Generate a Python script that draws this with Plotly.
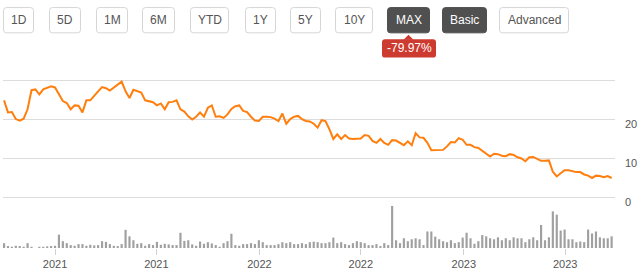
import plotly.graph_objects as go
import pandas as pd

# ---------------- data ----------------
start_date = "2020-10-02"
price = [
    24.9, 21.8, 21.9, 20.1, 19.7, 20.2, 22.6, 27.5, 27.7, 26.4,
    27.7, 28.2, 28.5, 28.2, 26.5, 24.7, 24.2, 22.6, 23.6, 23.5,
    21.8, 24.9, 24.9, 26.2, 27.2, 28.3, 28.0, 27.4, 28.2, 29.1,
    29.7, 27.2, 25.5, 27.6, 27.3, 26.9, 24.9, 24.7, 24.4, 23.6,
    24.1, 22.6, 24.4, 24.5, 24.9, 22.6, 22.0, 20.8, 20.0, 20.7,
    21.8, 20.7, 23.0, 23.6, 20.7, 20.8, 20.4, 21.3, 22.7, 23.4,
    23.6, 22.2, 21.9, 20.7, 19.7, 19.6, 20.7, 20.7, 20.6, 20.2,
    19.6, 21.5, 18.9, 20.1, 20.7, 20.9, 20.1, 19.6, 19.5, 18.9,
    17.9, 19.8, 19.6, 17.5, 15.0, 16.2, 15.0, 16.0, 15.1, 15.0,
    15.1, 15.1, 16.0, 15.8, 14.5, 14.0, 15.0, 14.0, 13.5, 14.7,
    14.6, 13.9, 13.4, 14.4, 13.4, 16.5, 15.4, 15.3, 14.0, 12.1,
    12.1, 12.2, 12.2, 13.1, 14.2, 14.1, 15.2, 14.8, 13.5,
    13.5, 12.9, 12.7, 11.9, 11.1, 10.5, 11.2, 11.1, 10.7, 10.6,
    11.1, 10.9, 10.3, 10.0, 9.3, 10.3, 10.4, 10.0, 9.4, 9.4,
    9.5, 6.6, 5.4, 6.2, 7.0, 7.0, 6.7, 6.5, 6.5, 5.9,
    5.6, 5.0, 5.6, 5.5, 5.2, 5.5, 5.0,
]
volume = [
    5, 2, 1.3, 2.3, 2, 1.3, 5, 1.3, 0, 1.3,
    1.3, 1.7, 2, 2.3, 13.7, 7, 5, 3, 2.3, 4,
    4, 2.3, 3.3, 2.7, 3, 7, 6.3, 4, 2.3, 2,
    4, 18.7, 12, 8, 4.3, 5, 2.3, 4, 3, 6.3,
    3.3, 4.3, 3.7, 3, 3, 15.7, 7.3, 8, 3.7, 2.3,
    6.7, 4.3, 6, 4.7, 3, 1.3, 5, 7, 14.7, 3,
    2.3, 4, 4, 5, 4, 8, 6, 3, 3, 3,
    4, 6, 5, 6, 4, 4, 5, 4, 6, 6.5,
    6, 5, 5, 6, 10.7, 5, 6, 4, 3, 5,
    7, 6, 5, 3, 3, 4, 2, 5, 3, 43.3,
    8, 5, 10, 7, 9, 10, 9, 3, 17, 17,
    11.7, 9, 7, 6, 8, 5, 6, 10.7, 15.7,
    10, 4.3, 7, 13.3, 12, 10, 9, 11, 8, 10,
    8, 11, 10, 10, 6, 9, 11, 8, 23.7, 8,
    11, 37.7, 34.3, 18, 19, 9, 9, 6, 6.7, 6,
    19, 15, 17, 11, 10, 10, 12,
]
dates = pd.date_range(start=start_date, periods=len(price), freq="7D")

x_tick_dates = ["2021-01-01", "2021-07-01", "2022-01-01", "2022-07-01", "2023-01-01", "2023-07-01"]
x_tick_text = ["2021", "2021", "2022", "2022", "2023", "2023"]
y_tick_vals = [0, 10, 20, 30]
y_tick_text = ["0", "10", "20", ""]

buttons = ["1D", "5D", "1M", "6M", "YTD", "1Y", "5Y", "10Y", "MAX", "Basic", "Advanced"]
active_buttons = ["MAX", "Basic"]
change_label = "-79.97%"

# ---------------- layout geometry (pixels) ----------------
W, H = 640, 273
ML, MR, MT, MB = 3, 25, 78, 20
PW, PH = W - ML - MR, H - MT - MB
Y0, Y30 = 201, 80.5            # pixel rows of price 0 and 30
ppu = (Y0 - Y30) / 30.0        # pixels per price unit
split_px = 202.5               # boundary between price and volume panes
split = (H - MB - split_px) / PH
price_top = (Y0 - MT) / ppu
price_bot = -(split_px - Y0) / ppu
vol_top = (H - MB - split_px)  # 1 volume unit = 1 px


def px(x):
    return (x - ML) / PW


def py(y):
    return (H - MB - y) / PH


def rrect(x0, y0, x1, y1, r=3):
    pts = [
        ("M", [(x0 + r, y0)]), ("L", [(x1 - r, y0)]), ("Q", [(x1, y0), (x1, y0 + r)]),
        ("L", [(x1, y1 - r)]), ("Q", [(x1, y1), (x1 - r, y1)]), ("L", [(x0 + r, y1)]),
        ("Q", [(x0, y1), (x0, y1 - r)]), ("L", [(x0, y0 + r)]), ("Q", [(x0, y0), (x0 + r, y0)]),
    ]
    s = ""
    for cmd, ps in pts:
        s += cmd + " " + " ".join(f"{px(a):.5f},{py(b):.5f}" for a, b in ps) + " "
    return s + "Z"


fig = go.Figure()
fig.add_trace(go.Scatter(
    x=dates, y=price, mode="lines",
    line=dict(color="#ff7f0e", width=2),
    xaxis="x", yaxis="y", hoverinfo="skip", showlegend=False,
))
fig.add_trace(go.Bar(
    x=dates, y=volume, marker=dict(color="#a0a0a0", line=dict(width=0)),
    xaxis="x", yaxis="y2", hoverinfo="skip", showlegend=False,
))

shapes = []
annotations = []
btn_pos = [(3, 34), (49, 81), (96, 128), (142, 175), (190, 229), (245, 276),
           (290, 321), (335, 373), (387, 430), (442, 487), (499, 569)]
for label, (x0, x1) in zip(buttons, btn_pos):
    active = label in active_buttons
    shapes.append(dict(
        type="path", xref="paper", yref="paper", path=rrect(x0 + 0.5, 5.5, x1 - 0.5, 31.5),
        fillcolor="#505050" if active else "#ffffff",
        line=dict(color="#505050" if active else "#d6d6d6", width=1), layer="above",
    ))
    annotations.append(dict(
        x=px((x0 + x1) / 2), y=py(18.5), xref="paper", yref="paper", text=label,
        showarrow=False, xanchor="center", yanchor="middle",
        font=dict(family="Liberation Sans, Arial", size=12,
                  color="#ffffff" if active else "#555555"),
    ))

# change badge with pointer
bx0, bx1, by0, by1 = 382, 436, 38, 57
tip = 408.5
shapes.append(dict(
    type="path", xref="paper", yref="paper", path=rrect(bx0, by0, bx1, by1, 3),
    fillcolor="#cc3a30", line=dict(width=0), layer="above",
))
shapes.append(dict(
    type="path", xref="paper", yref="paper",
    path=f"M {px(tip-5):.5f},{py(by0+0.5):.5f} L {px(tip):.5f},{py(33.5):.5f} L {px(tip+5):.5f},{py(by0+0.5):.5f} Z",
    fillcolor="#cc3a30", line=dict(width=0), layer="above",
))
annotations.append(dict(
    x=px((bx0 + bx1) / 2), y=py((by0 + by1) / 2), xref="paper", yref="paper",
    text=change_label, showarrow=False, xanchor="center", yanchor="middle",
    font=dict(family="Liberation Sans, Arial", size=12, color="#ffffff"),
))

fig.update_layout(
    width=W, height=H,
    margin=dict(l=ML, r=MR, t=MT, b=MB, pad=0),
    paper_bgcolor="#ffffff", plot_bgcolor="#ffffff",
    bargap=0.45,
    shapes=shapes, annotations=annotations,
    xaxis=dict(
        domain=[0, 1], anchor="y2",
        range=["2020-09-30 03:00", "2023-09-28"],
        tickvals=x_tick_dates, ticktext=x_tick_text,
        ticks="outside", ticklen=6, tickcolor="#d0d0d0", tickwidth=1,
        showgrid=False, showline=False, zeroline=False,
        tickfont=dict(family="Liberation Sans, Arial", size=11, color="#555555"),
    ),
    yaxis=dict(
        domain=[split, 1], anchor="x", side="right",
        range=[price_bot, price_top], tickvals=y_tick_vals, ticktext=y_tick_text,
        showgrid=True, gridcolor="#dcdcdc", gridwidth=1,
        zeroline=False, showline=False, ticks="",
        ticklabelshift=5, ticklabelstandoff=9,
        tickfont=dict(family="Liberation Sans, Arial", size=11, color="#555555"),
    ),
    yaxis2=dict(
        domain=[0, split], anchor="x", range=[0, vol_top],
        showgrid=False, zeroline=False, showline=False, showticklabels=False, ticks="",
    ),
)

fig.write_html("out.html")
